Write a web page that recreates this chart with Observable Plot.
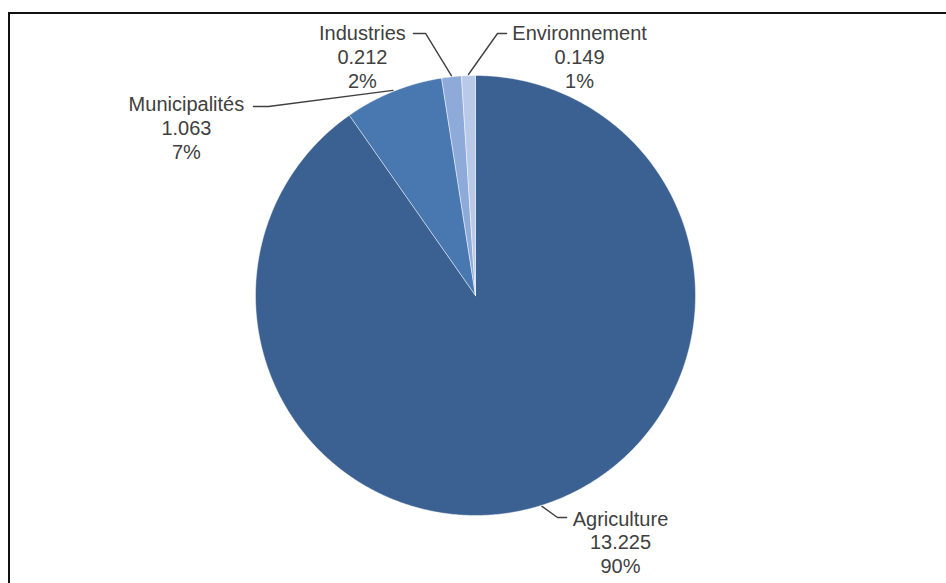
<!DOCTYPE html>
<html>
<head>
<meta charset="utf-8">
<script src="https://cdn.jsdelivr.net/npm/d3@7"></script>
<script src="https://cdn.jsdelivr.net/npm/@observablehq/plot@0.6"></script>
<style>
  html, body { margin: 0; padding: 0; background: #fff; }
  #wrap { position: relative; width: 946px; height: 583px; overflow: hidden; }
  #frame { position: absolute; left: 8px; top: 12px; right: -10px; bottom: -10px;
           border-left: 2.5px solid #111; border-top: 2.5px solid #111; pointer-events: none; }
</style>
</head>
<body>
<div id="wrap"><div id="frame"></div></div>
<script>
// ---- data ----
const categories = ["Agriculture", "Municipalités", "Industries", "Environnement"];
const values = [13.225, 1.063, 0.212, 0.149];
const percentLabels = ["90%", "7%", "2%", "1%"];
const colors = ["#3b6193", "#4977b0", "#8eaad8", "#b9c9e8"];

// ---- label layout (in pie-radius units, y up, centre = 0,0) ----
const labelText = [[0.659, -0.968], [-1.314, 0.914], [-0.514, 1.241], [0.473, 1.241]];
const leaderElbow = [[0.373, -1.009], [-0.941, 0.859], [-0.227, 1.191], [0.100, 1.191]];
const leaderEnd = [[0.414, -1.009], [-1.009, 0.859], [-0.282, 1.191], [0.141, 1.191]];

// ---- geometry from data ----
const arcs = d3.pie().sort(null)(values);
const slices = [];
arcs.forEach((a, i) => {
  const name = categories[i];
  slices.push({name, x: 0, y: 0});
  const n = Math.max(4, Math.ceil((a.endAngle - a.startAngle) / (Math.PI / 360)));
  for (let k = 0; k <= n; ++k) {
    const t = a.startAngle + (a.endAngle - a.startAngle) * k / n;
    slices.push({name, x: Math.sin(t), y: Math.cos(t)});
  }
  slices.push({name, x: 0, y: 0});
});

const leaders = [];
arcs.forEach((a, i) => {
  const name = categories[i];
  const m = (a.startAngle + a.endAngle) / 2;
  leaders.push({name, x: Math.sin(m) * 1.005, y: Math.cos(m) * 1.005});
  leaders.push({name, x: leaderElbow[i][0], y: leaderElbow[i][1]});
  leaders.push({name, x: leaderEnd[i][0], y: leaderEnd[i][1]});
});

const labels = categories.map((name, i) => ({
  name, x: labelText[i][0], y: labelText[i][1],
  text: `${name}\n${values[i].toFixed(3)}\n${percentLabels[i]}`
}));

// pixel layout: centre (475,295), radius 220
const W = 946, H = 583, cx = 475, cy = 295, R = 220;

const chart = Plot.plot({
  width: W,
  height: H,
  margin: 0,
  x: {domain: [-cx / R, (W - cx) / R], axis: null},
  y: {domain: [-(H - cy) / R, cy / R], axis: null},
  color: {domain: categories, range: colors},
  style: {fontFamily: "'Liberation Sans', Arial, sans-serif", background: "transparent"},
  marks: [
    Plot.line(slices, {x: "x", y: "y", z: "name", fill: "name", stroke: "#ffffff",
                       strokeOpacity: 0.45, strokeWidth: 1, curve: "linear-closed"}),
    Plot.line(leaders, {x: "x", y: "y", z: "name", stroke: "#404040", strokeWidth: 1.4}),
    Plot.text(labels, {x: "x", y: "y", text: "text", lineAnchor: "top", textAnchor: "middle",
                       fontSize: 20, lineHeight: 1.2, fill: "#404040"})
  ]
});
document.getElementById("wrap").prepend(chart);
</script>
</body>
</html>
